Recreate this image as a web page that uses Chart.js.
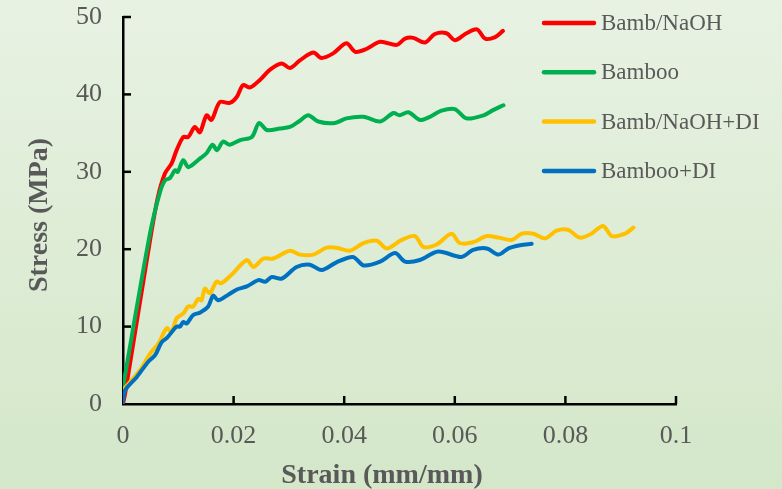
<!DOCTYPE html>
<html>
<head>
<meta charset="utf-8">
<script src="https://cdn.jsdelivr.net/npm/chart.js@4/dist/chart.umd.min.js"></script>
<style>
    html, body { margin: 0; padding: 0; }
    body {
        width: 782px; height: 489px; overflow: hidden;
        background: linear-gradient(to bottom, #e8f2e3 0%, #d4e7c9 100%);
    }
    canvas { display: block; }
</style>
</head>
<body>
<canvas id="stressChart" width="782" height="489"></canvas>
<script>
// series labels and colours (legend order)
const seriesNames = ['Bamb/NaOH', 'Bamboo', 'Bamb/NaOH+DI', 'Bamboo+DI'];
const seriesColors = ['#ff0000', '#00b050', '#ffc000', '#0070c0'];

// Bamb/NaOH
const naohStrain = [0, 0.0004, 0.0049, 0.0063, 0.0076, 0.0088, 0.0097, 0.0109, 0.0118, 0.013, 0.0139, 0.0151, 0.016, 0.0175, 0.0193, 0.0206, 0.0217, 0.023, 0.0248, 0.0266, 0.0287, 0.0302, 0.032, 0.0344, 0.0359, 0.038, 0.0404, 0.042, 0.0441, 0.0465, 0.0495, 0.051, 0.0525, 0.0546, 0.0564, 0.0585, 0.06, 0.0621, 0.064, 0.0655, 0.0673, 0.0687];
const naohStress = [0, 1.4, 21.2, 26.7, 29.8, 31.1, 32.8, 34.5, 34.5, 35.8, 35.1, 37.3, 36.7, 39.0, 38.9, 39.7, 41.2, 40.9, 41.9, 43.2, 44.0, 43.4, 44.4, 45.4, 44.7, 45.3, 46.6, 45.5, 45.9, 46.8, 46.4, 47.2, 47.3, 46.7, 47.8, 47.9, 47.0, 47.9, 48.4, 47.2, 47.4, 48.2];

// Bamboo
const bambooStrain = [0, 0.0049, 0.0067, 0.0076, 0.0085, 0.0094, 0.0099, 0.0109, 0.0118, 0.0139, 0.0151, 0.0162, 0.017, 0.0181, 0.0193, 0.0212, 0.0233, 0.0246, 0.026, 0.0284, 0.0302, 0.032, 0.0335, 0.0353, 0.0383, 0.0404, 0.0435, 0.0465, 0.0489, 0.05, 0.0516, 0.0537, 0.0555, 0.0576, 0.06, 0.0621, 0.0652, 0.067, 0.0688];
const bambooStress = [2.2, 22.1, 27.4, 28.9, 29.2, 30.2, 30.0, 31.5, 30.6, 31.7, 32.4, 33.5, 32.8, 33.9, 33.5, 34.1, 34.5, 36.3, 35.4, 35.6, 35.8, 36.6, 37.3, 36.5, 36.3, 36.9, 37.1, 36.5, 37.6, 37.3, 37.7, 36.7, 37.1, 37.9, 38.1, 36.9, 37.3, 38.0, 38.6];

// Bamb/NaOH+DI
const naohDiStrain = [0, 0.0031, 0.0049, 0.0064, 0.0079, 0.0088, 0.0097, 0.0109, 0.0118, 0.0127, 0.0136, 0.0142, 0.0148, 0.0157, 0.0169, 0.0178, 0.0199, 0.0224, 0.0236, 0.0254, 0.0272, 0.0302, 0.032, 0.0344, 0.0368, 0.0386, 0.041, 0.0435, 0.0459, 0.0477, 0.0504, 0.0528, 0.0543, 0.0567, 0.0594, 0.0609, 0.0633, 0.0658, 0.0679, 0.0703, 0.0721, 0.0742, 0.0763, 0.0784, 0.0805, 0.0826, 0.0847, 0.0868, 0.0884, 0.0908, 0.0923];
const naohDiStress = [1.8, 4.4, 6.5, 7.8, 9.8, 9.3, 11.1, 11.7, 12.6, 12.6, 13.6, 13.4, 14.9, 14.3, 15.8, 15.6, 16.9, 18.6, 17.7, 18.8, 18.8, 19.8, 19.3, 19.3, 20.2, 20.2, 19.8, 20.8, 21.1, 20.1, 21.2, 21.7, 20.3, 20.6, 22.0, 20.8, 20.9, 21.7, 21.5, 21.2, 22.0, 22.0, 21.4, 22.4, 22.5, 21.5, 22.0, 23.0, 21.7, 22.0, 22.8];

// Bamboo+DI
const bambooDiStrain = [0, 0.0004, 0.0025, 0.0046, 0.0058, 0.007, 0.0079, 0.0097, 0.0103, 0.0109, 0.0115, 0.0127, 0.0139, 0.0154, 0.0163, 0.0172, 0.019, 0.0206, 0.0224, 0.0245, 0.0257, 0.0269, 0.0287, 0.0314, 0.0338, 0.0359, 0.0386, 0.0416, 0.0435, 0.0465, 0.0492, 0.051, 0.0537, 0.057, 0.0612, 0.0633, 0.0658, 0.0679, 0.0697, 0.0718, 0.0739];
const bambooDiStress = [0.3, 1.8, 3.5, 5.5, 6.3, 8.0, 8.5, 10.0, 10.0, 10.6, 10.4, 11.5, 11.8, 12.6, 14.0, 13.4, 14.1, 14.8, 15.2, 16.0, 15.8, 16.4, 16.2, 17.7, 18.0, 17.3, 18.3, 19.0, 17.9, 18.4, 19.5, 18.4, 18.6, 19.7, 19.0, 19.9, 20.1, 19.3, 20.1, 20.5, 20.7];

// axis ticks
const strainTicks = [0, 0.02, 0.04, 0.06, 0.08, 0.1];
const stressTicks = [0, 10, 20, 30, 40, 50];

const textGrey = '#595959';
const serif = '"Liberation Serif", "Times New Roman", serif';

function toPoints(xs, ys) {
    const n = Math.min(xs.length, ys.length);
    const pts = [];
    for (let i = 0; i < n; i++) pts.push({ x: xs[i], y: ys[i] });
    return pts;
}

const allX = [naohStrain, bambooStrain, naohDiStrain, bambooDiStrain];
const allY = [naohStress, bambooStress, naohDiStress, bambooDiStress];
const drawOrder = [4, 3, 2, 1];

const datasets = seriesNames.map((name, i) => ({
    label: name,
    data: toPoints(allX[i], allY[i]),
    borderColor: seriesColors[i],
    backgroundColor: seriesColors[i],
    borderWidth: 4,
    pointRadius: 0,
    tension: 0.3,
    borderCapStyle: 'round',
    borderJoinStyle: 'round',
    fill: false,
    order: drawOrder[i]
}));

// inward ticks, axis titles and the legend
const decorPlugin = {
    id: 'decor',
    afterDraw(chart) {
        const ctx = chart.ctx;
        const xs = chart.scales.x, ys = chart.scales.y;
        const area = chart.chartArea;
        ctx.save();
        ctx.strokeStyle = '#000';
        ctx.lineWidth = 2.5;
        strainTicks.forEach(v => {
            if (v === 0) return;
            const px = xs.getPixelForValue(v);
            ctx.beginPath();
            ctx.moveTo(px, area.bottom);
            ctx.lineTo(px, area.bottom - 8);
            ctx.stroke();
        });
        stressTicks.forEach(v => {
            if (v === 0) return;
            const py = ys.getPixelForValue(v);
            ctx.beginPath();
            ctx.moveTo(area.left, py);
            ctx.lineTo(area.left + 8, py);
            ctx.stroke();
        });

        // axis titles
        ctx.fillStyle = textGrey;
        ctx.font = 'bold 28px ' + serif;
        ctx.textAlign = 'center';
        ctx.textBaseline = 'middle';
        ctx.fillText('Strain (mm/mm)', 382, 476);
        ctx.translate(40, 215);
        ctx.rotate(-Math.PI / 2);
        ctx.fillText('Stress (MPa)', 0, 0);
        ctx.setTransform(1, 0, 0, 1, 0, 0);

        // legend
        ctx.font = '23px ' + serif;
        ctx.textAlign = 'left';
        seriesNames.forEach((name, i) => {
            const y = 23 + i * 49.3;
            ctx.strokeStyle = seriesColors[i];
            ctx.lineWidth = 4.5;
            ctx.lineCap = 'round';
            ctx.beginPath();
            ctx.moveTo(544, y);
            ctx.lineTo(594, y);
            ctx.stroke();
            ctx.fillStyle = textGrey;
            ctx.fillText(name, 601, y + 1);
        });
        ctx.restore();
    }
};

const ctx = document.getElementById('stressChart').getContext('2d');
new Chart(ctx, {
    type: 'line',
    data: { datasets: datasets },
    options: {
        responsive: false,
        animation: false,
        layout: { padding: { top: 17, right: 106, left: 0, bottom: 0 } },
        plugins: {
            legend: { display: false },
            tooltip: { enabled: false }
        },
        scales: {
            x: {
                type: 'linear',
                min: 0,
                max: 0.1,
                afterFit: s => {
                    s.height = 85;
                    s.paddingLeft = 0;
                    s.paddingRight = 0;
                },
                afterBuildTicks: s => { s.ticks = strainTicks.map(v => ({ value: v })); },
                grid: { display: false },
                border: { display: true, color: '#000', width: 2.5 },
                ticks: {
                    padding: 9,
                    maxRotation: 0,
                    minRotation: 0,
                    autoSkip: false,
                    color: textGrey,
                    font: { family: serif, size: 26 },
                    callback: v => String(v)
                }
            },
            y: {
                min: 0,
                max: 50,
                afterFit: s => {
                    s.width = 123;
                    s.paddingTop = 0;
                    s.paddingBottom = 0;
                },
                afterBuildTicks: s => { s.ticks = stressTicks.map(v => ({ value: v })); },
                grid: { display: false },
                border: { display: true, color: '#000', width: 2.5 },
                ticks: {
                    padding: 13,
                    autoSkip: false,
                    color: textGrey,
                    font: { family: serif, size: 26 }
                }
            }
        }
    },
    plugins: [decorPlugin]
});
</script>
</body>
</html>
